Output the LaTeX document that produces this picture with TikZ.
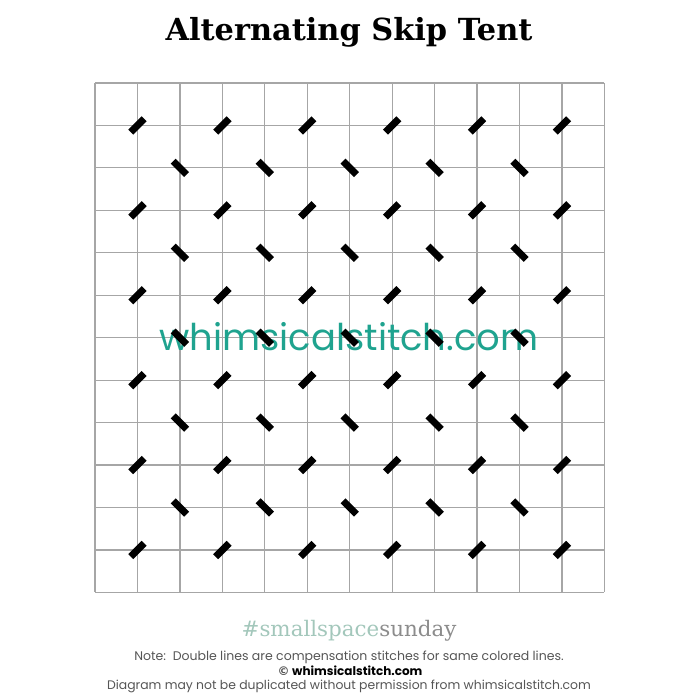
\documentclass[tikz,border=0pt]{standalone}
\usepackage{fontspec}
\setmainfont{Poppins}
\newfontfamily\slab{DejaVu Serif}
\newfontfamily\wmfont{Poppins}
\definecolor{gridgray}{HTML}{A6A6A6}
\definecolor{wmteal}{HTML}{1FA38F}
\definecolor{hashgreen}{HTML}{A3C7BB}
\definecolor{sundaygray}{HTML}{8C8C8C}
\definecolor{notegray}{HTML}{555555}
\tikzset{
  gridline/.style={draw=gridgray, line width=1.2pt},
  stitch/.style={line width=7pt, line cap=butt, black},
}
\begin{document}
\begin{tikzpicture}[x=1pt,y=-1pt]
\useasboundingbox (0,0) rectangle (700,700);
% grid
\foreach \i in {0,...,12}{
  \draw[gridline] (95+42.45*\i,83) -- (95+42.45*\i,592.4);
  \draw[gridline] (95,83+42.45*\i) -- (604.4,83+42.45*\i);
}
% title
\node[font=\slab\bfseries\fontsize{30.4}{33}\selectfont] (title) at (349,32) {Alternating Skip Tent};
% watermark
\node[text=wmteal, font=\wmfont\fontsize{36.9}{40}\selectfont] (wm) at (349,337) {whimsicalstitch.com};
% stitches
\foreach \r in {1,3,5,7,9,11}{
  \foreach \c in {1,3,5,7,9,11}{
    \draw[stitch] (95+42.45*\c-6.7,83+42.45*\r+6.7) -- (95+42.45*\c+6.7,83+42.45*\r-6.7);
  }
}
\foreach \r in {2,4,6,8,10}{
  \foreach \c in {2,4,6,8,10}{
    \draw[stitch] (95+42.45*\c-6.7,83+42.45*\r-6.7) -- (95+42.45*\c+6.7,83+42.45*\r+6.7);
  }
}
% footer
\node[font=\slab\fontsize{21.4}{23}\selectfont] (hash) at (349,631) {\textcolor{hashgreen}{\#smallspace}\textcolor{sundaygray}{sunday}};
\node[text=notegray, font=\fontsize{12.5}{14}\selectfont] (note) at (349,657) {Note:\ \ Double lines are compensation stitches for same colored lines.};
\node[font=\bfseries\fontsize{12}{14}\selectfont] (copy) at (350,671) {\textcolor{notegray}{\fontspec{DejaVu Sans}\char"00A9}\ whimsicalstitch.com};
\node[text=notegray, font=\fontsize{12.4}{14}\selectfont] (dup) at (349,686) {Diagram may not be duplicated without permission from whimsicalstitch.com};
\end{tikzpicture}
\end{document}
